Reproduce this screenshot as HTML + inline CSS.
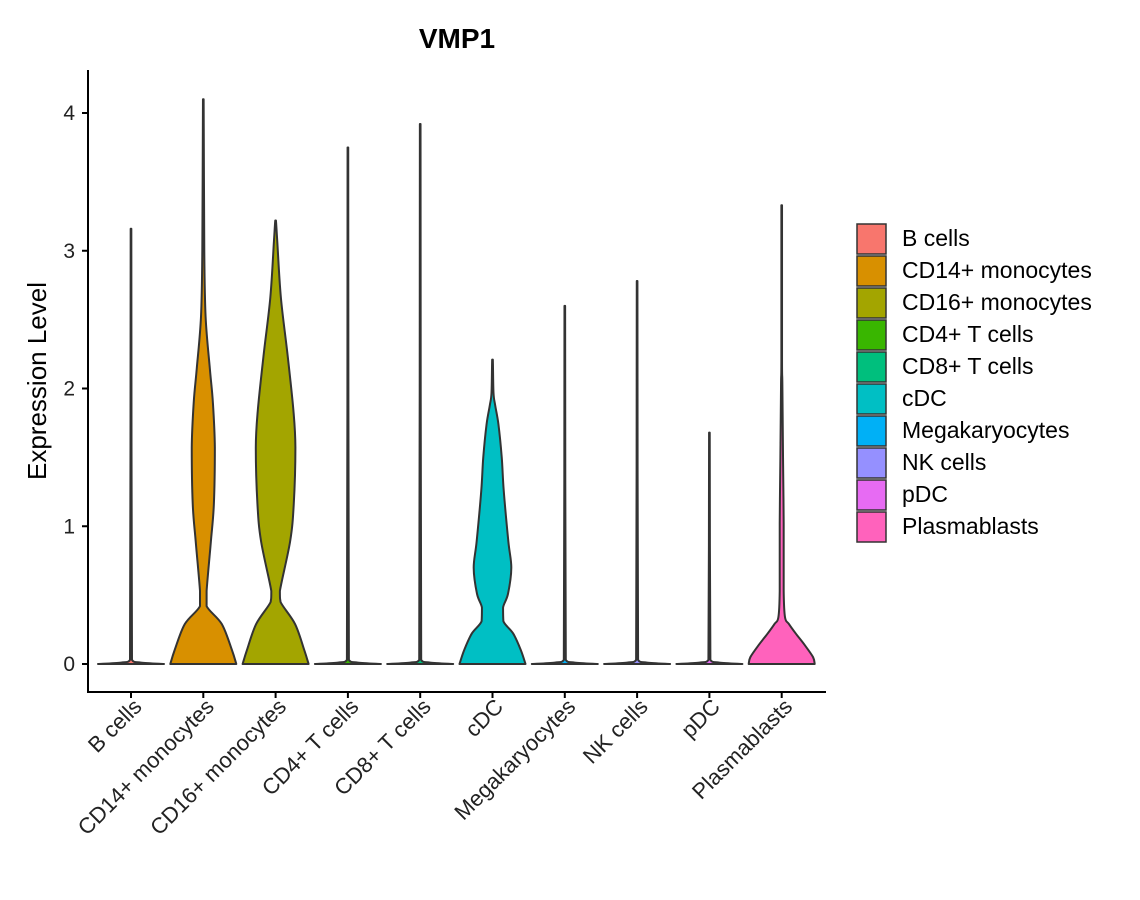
<!DOCTYPE html>
<html><head><meta charset="utf-8"><style>
body{margin:0;background:#fff;}
svg{display:block;font-family:"Liberation Sans","DejaVu Sans",sans-serif;}
</style></head><body>
<svg id="chart" width="1140" height="900" xmlns="http://www.w3.org/2000/svg"></svg>
<script>
const categories=["B cells","CD14+ monocytes","CD16+ monocytes","CD4+ T cells","CD8+ T cells","cDC","Megakaryocytes","NK cells","pDC","Plasmablasts"];
const colors=["#F8766D","#D89000","#A3A500","#39B600","#00BF7D","#00BFC4","#00B0F6","#9590FF","#E76BF3","#FF62BC"];
const maxValues=[3.16,4.1,3.22,3.75,3.92,2.21,2.6,2.78,1.68,3.33];
// density profiles: values (expression level) and relative half-widths
const profVals=[
 [0,0.01,0.03],
 [0,0.1,0.29,0.42,0.53,0.89,1.16,1.57,1.9,2.14,2.52,3.0],
 [0,0.1,0.29,0.45,0.53,0.89,1.16,1.57,1.84,2.25,2.66,3.07],
 [0,0.01,0.03],
 [0,0.01,0.03],
 [0,0.1,0.22,0.31,0.41,0.51,0.70,0.89,1.26,1.5,1.74,1.88,1.97],
 [0,0.01,0.03],
 [0,0.01,0.03],
 [0,0.01,0.03],
 [0,0.05,0.14,0.22,0.29,0.34,0.53,1.02,1.5,2.03,2.2]
];
const profWidths=[
 [1,0.3,0.03],
 [1,0.87,0.56,0.1,0.1,0.23,0.32,0.35,0.29,0.2,0.07,0.03],
 [1,0.87,0.59,0.15,0.13,0.44,0.55,0.6,0.54,0.36,0.16,0.05],
 [1,0.3,0.03],
 [1,0.3,0.03],
 [1,0.86,0.63,0.33,0.32,0.47,0.57,0.48,0.34,0.28,0.18,0.08,0.03],
 [1,0.3,0.03],
 [1,0.3,0.03],
 [1,0.3,0.03],
 [1,0.95,0.69,0.43,0.22,0.1,0.06,0.06,0.04,0.02,0.01]
];
const yTicks=[0,1,2,3,4];

const svg=document.getElementById('chart');
const NS='http://www.w3.org/2000/svg';
const X0=131,DX=72.3,HALF=33;
const xPos=i=>X0+i*DX;
const yPos=v=>664-v*137.75;
function mk(t,a,p){const e=document.createElementNS(NS,t);for(const k in a)e.setAttribute(k,a[k]);(p||svg).appendChild(e);return e;}
const clamp=(v,a,b)=>Math.max(Math.min(a,b),Math.min(Math.max(a,b),v));

let t=mk('text',{x:457,y:48,'text-anchor':'middle','font-size':28,'font-weight':'bold',fill:'#000'});t.textContent='VMP1';



categories.forEach((c,i)=>{
 const vals=profVals[i].concat([maxValues[i]]);
 const ws=profWidths[i].concat([0.01]);
 const cx=xPos(i);
 const right=vals.map((v,k)=>[cx+ws[k]*HALF,yPos(v)]);
 const left=vals.map((v,k)=>[cx-ws[k]*HALF,yPos(v)]).reverse();
 const pts=right.concat(left);
 let d='M'+pts[0][0]+','+pts[0][1];
 for(let k=0;k<pts.length-1;k++){
  const p0=pts[Math.max(0,k-1)],p1=pts[k],p2=pts[k+1],p3=pts[Math.min(pts.length-1,k+2)];
  const c1=[clamp(p1[0]+(p2[0]-p0[0])/6,p1[0],p2[0]),clamp(p1[1]+(p2[1]-p0[1])/6,p1[1],p2[1])];
  const c2=[clamp(p2[0]-(p3[0]-p1[0])/6,p1[0],p2[0]),clamp(p2[1]-(p3[1]-p1[1])/6,p1[1],p2[1])];
  d+=' C'+c1[0]+','+c1[1]+' '+c2[0]+','+c2[1]+' '+p2[0]+','+p2[1];
 }
 d+='Z';
 const p=mk('path',{d:d,fill:colors[i],stroke:'#333','stroke-width':2,'stroke-linejoin':'round'});
 
 
});

let ax=mk('line',{x1:88,y1:70,x2:88,y2:692,stroke:'#000','stroke-width':2});


let bx=mk('line',{x1:87,y1:692,x2:826,y2:692,stroke:'#000','stroke-width':2});



yTicks.forEach(v=>{
 mk('line',{x1:82,y1:yPos(v),x2:88,y2:yPos(v),stroke:'#000','stroke-width':2});
 const l=mk('text',{x:75,y:yPos(v)+7,'text-anchor':'end','font-size':21,fill:'#222'});
 l.textContent=v;
 
 
});
categories.forEach((c,i)=>{
 const x=xPos(i)+12, y=708;
 mk('line',{x1:xPos(i),y1:692,x2:xPos(i),y2:698,stroke:'#000','stroke-width':2});
 const l=mk('text',{x:x,y:y,'text-anchor':'end','font-size':22,fill:'#222',transform:'rotate(-45 '+x+' '+y+')'});
 l.textContent=c;
 
 
});
let yl=mk('text',{x:46,y:381,'text-anchor':'middle','font-size':26,fill:'#000',transform:'rotate(-90 46 381)'});
yl.textContent='Expression Level';



categories.forEach((c,i)=>{
 const y=224+i*32;
 const r=mk('rect',{x:857,y:y,width:29,height:30,fill:colors[i],stroke:'#333','stroke-width':1.5});
 
 
 const l=mk('text',{x:902,y:y+22,'font-size':23,fill:'#000'});
 l.textContent=c;
 
 
});
</script>
</body></html>
